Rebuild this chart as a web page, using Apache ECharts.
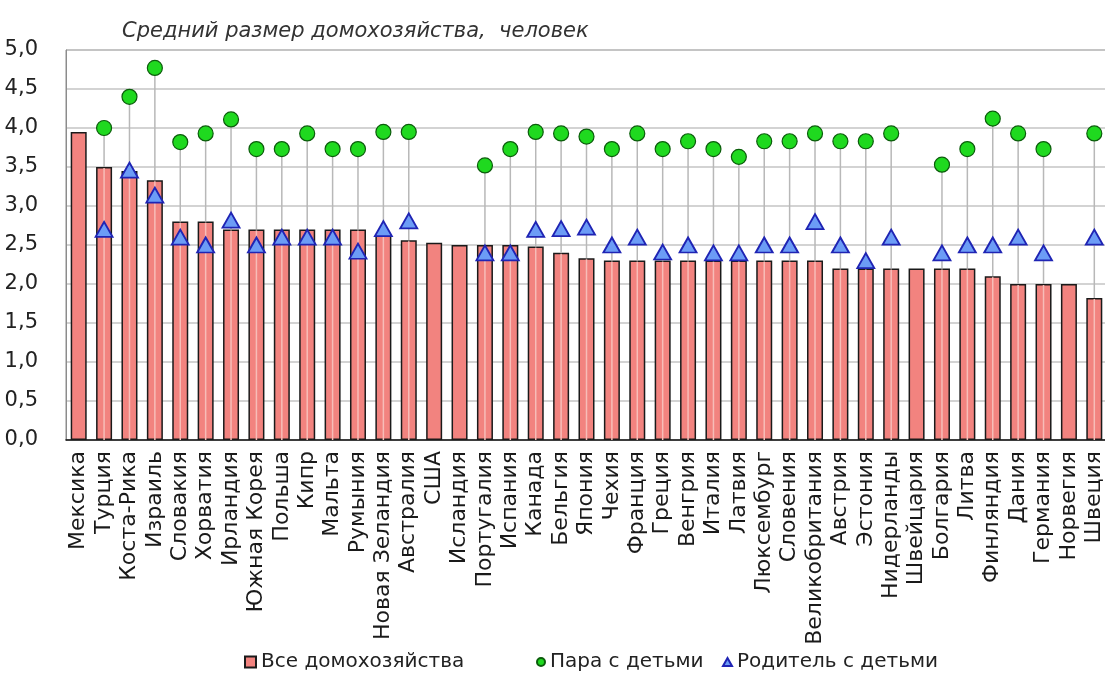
<!DOCTYPE html>
<html>
<head>
<meta charset="utf-8">
<script src="https://cdn.jsdelivr.net/npm/echarts@6/dist/echarts.min.js"></script>
<style>
  html, body { margin: 0; padding: 0; background: #fff; }
  #chart { width: 1105px; height: 682px; }
</style>
</head>
<body>
<div id="chart"></div>
<script>
// страны
var countries = ['Мексика', 'Турция', 'Коста-Рика', 'Израиль', 'Словакия', 'Хорватия', 'Ирландия',
  'Южная Корея', 'Польша', 'Кипр', 'Мальта', 'Румыния', 'Новая Зеландия', 'Австралия', 'США',
  'Исландия', 'Португалия', 'Испания', 'Канада', 'Бельгия', 'Япония', 'Чехия', 'Франция', 'Греция',
  'Венгрия', 'Италия', 'Латвия', 'Люксембург', 'Словения', 'Великобритания', 'Австрия', 'Эстония',
  'Нидерланды', 'Швейцария', 'Болгария', 'Литва', 'Финляндия', 'Дания', 'Германия', 'Норвегия', 'Швеция'];

// Все домохозяйства
var allHouseholds = [3.95, 3.5, 3.45, 3.33, 2.8, 2.8, 2.7, 2.7, 2.7, 2.7, 2.7, 2.7, 2.63, 2.56, 2.53,
  2.5, 2.5, 2.5, 2.48, 2.4, 2.33, 2.3, 2.3, 2.3, 2.3, 2.3, 2.3, 2.3, 2.3, 2.3, 2.2, 2.2,
  2.2, 2.2, 2.2, 2.2, 2.1, 2.0, 2.0, 2.0, 1.82];

// Пара с детьми
var coupleWithKids = [null, 4.0, 4.4, 4.77, 3.82, 3.93, 4.11, 3.73, 3.73, 3.93, 3.73, 3.73, 3.95, 3.95, null,
  null, 3.52, 3.73, 3.95, 3.93, 3.89, 3.73, 3.93, 3.73, 3.83, 3.73, 3.63, 3.83, 3.83, 3.93, 3.83, 3.83,
  3.93, null, 3.53, 3.73, 4.12, 3.93, 3.73, null, 3.93];

// Родитель с детьми
var parentWithKids = [null, 2.7, 3.46, 3.14, 2.6, 2.5, 2.82, 2.5, 2.6, 2.6, 2.6, 2.42, 2.71, 2.81, null,
  null, 2.4, 2.4, 2.7, 2.71, 2.73, 2.5, 2.6, 2.41, 2.5, 2.4, 2.4, 2.5, 2.5, 2.8, 2.5, 2.3,
  2.6, null, 2.4, 2.5, 2.5, 2.6, 2.4, null, 2.6];

var yTicks = [0, 0.5, 1, 1.5, 2, 2.5, 3, 3.5, 4, 4.5, 5];

var dropData = [];
for (var i = 0; i < countries.length; i++) {
  if (coupleWithKids[i] != null) dropData.push([i, coupleWithKids[i], allHouseholds[i]]);
}

var chart = echarts.init(document.getElementById('chart'));
var font = 'DejaVu Sans, sans-serif';

var legendBase = {
  bottom: 5,
  itemGap: 6,
  textStyle: { fontFamily: font, fontSize: 20, color: '#222' }
};

var option = {
  animation: false,
  title: {
    text: 'Средний размер домохозяйства,  человек',
    left: 117,
    top: 16,
    textStyle: { fontFamily: font, fontSize: 21, fontStyle: 'italic', fontWeight: 'normal', color: '#333' }
  },
  legend: [
    Object.assign({}, legendBase, { left: 239, itemWidth: 11, itemHeight: 11, data: [{ name: 'Все домохозяйства', icon: 'rect' }] }),
    Object.assign({}, legendBase, { left: 531, itemWidth: 8, itemHeight: 8, data: [{ name: 'Пара с детьми', icon: 'circle' }] }),
    Object.assign({}, legendBase, { left: 717, itemWidth: 9, itemHeight: 8, data: [{ name: 'Родитель с детьми', icon: 'triangle' }] })
  ],
  grid: {
    left: 66, right: -2, top: 50, bottom: 242,
    show: true, borderColor: '#8c8c8c', borderWidth: 1,
    outerBoundsMode: 'none'
  },
  xAxis: {
    type: 'category',
    data: countries,
    axisLine: { lineStyle: { color: '#111', width: 1.5 } },
    axisTick: { show: false },
    axisLabel: {
      interval: 0, rotate: 90, margin: 11,
      fontFamily: font, fontSize: 22, color: '#1a1a1a'
    }
  },
  yAxis: {
    type: 'value',
    min: 0, max: 5, interval: 0.5,
    axisLine: { show: true, lineStyle: { color: '#8c8c8c' } },
    axisTick: { show: false },
    splitLine: { lineStyle: { color: '#c4c4c4', width: 1.5 } },
    axisLabel: {
      margin: 28,
      fontFamily: font, fontSize: 21, color: '#222',
      formatter: function (v) { return v.toFixed(1).replace('.', ','); }
    }
  },
  series: [
    {
      name: 'Все домохозяйства',
      type: 'bar',
      data: allHouseholds,
      barWidth: 16,
      z: 2,
      itemStyle: { color: '#F2837F', borderColor: '#1a1a1a', borderWidth: 1.5 }
    },
    {
      type: 'custom',
      data: dropData,
      z: 3,
      silent: true,
      encode: { x: 0, y: 1 },
      renderItem: function (params, api) {
        var top = api.coord([api.value(0), api.value(1)]);
        var mid = api.coord([api.value(0), api.value(2)]);
        var base = api.coord([api.value(0), 0]);
        return {
          type: 'group',
          children: [
            { type: 'line', shape: { x1: top[0], y1: top[1], x2: mid[0], y2: mid[1] },
              style: { stroke: '#b8b8b8', lineWidth: 1.5 } },
            { type: 'line', shape: { x1: mid[0], y1: mid[1] + 1, x2: base[0], y2: base[1] },
              style: { stroke: '#f7bdb8', lineWidth: 1.5 } }
          ]
        };
      }
    },
    {
      name: 'Родитель с детьми',
      type: 'scatter',
      data: parentWithKids,
      symbol: 'triangle',
      symbolSize: [17, 15],
      z: 4,
      itemStyle: { color: '#6c9cf6', borderColor: '#1f24b4', borderWidth: 1.8, opacity: 1 }
    },
    {
      name: 'Пара с детьми',
      type: 'scatter',
      data: coupleWithKids,
      symbol: 'circle',
      symbolSize: 15,
      z: 5,
      itemStyle: { color: '#1fd91f', borderColor: '#0b5c0b', borderWidth: 1.2, opacity: 1 }
    }
  ]
};

chart.setOption(option);
</script>
</body>
</html>
